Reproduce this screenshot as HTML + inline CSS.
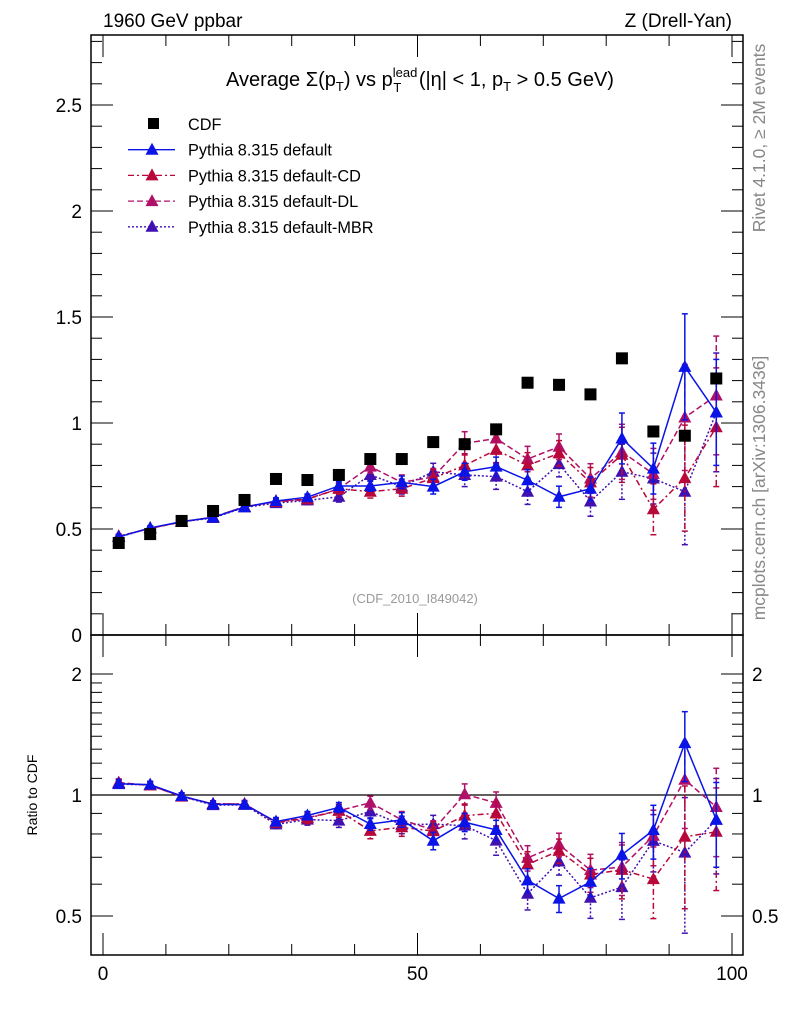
<!DOCTYPE html>
<html><head><meta charset="utf-8"><style>
body{margin:0;background:#fff;}
svg{display:block;font-family:"Liberation Sans",sans-serif;}
</style></head><body>
<svg id="c" width="786" height="1024" viewBox="0 0 786 1024">
<text x="103" y="27" font-size="19">1960 GeV ppbar</text>
<text x="732" y="27" font-size="19" text-anchor="end">Z (Drell-Yan)</text>
<text x="420" y="86" font-size="20" text-anchor="middle">Average Σ(p<tspan font-size="13" dy="5">T</tspan><tspan dy="-5">) vs p</tspan><tspan font-size="13" dy="-9">lead</tspan><tspan font-size="13" dx="-24" dy="15">T</tspan><tspan dx="12" dy="-6"> (|η| &lt; 1, p</tspan><tspan font-size="13" dy="5">T</tspan><tspan dy="-5"> &gt; 0.5 GeV)</tspan></text>
<text x="415" y="603" font-size="13" fill="#999" text-anchor="middle">(CDF_2010_I849042)</text>
<text transform="translate(765,138) rotate(-90)" font-size="17.5" fill="#888" text-anchor="middle">Rivet 4.1.0, ≥ 2M events</text>
<text transform="translate(765,488) rotate(-90)" font-size="17.5" fill="#888" text-anchor="middle">mcplots.cern.ch [arXiv:1306.3436]</text>
<text transform="translate(37,795) rotate(-90)" font-size="14" text-anchor="middle">Ratio to CDF</text>
<g id="g"></g>
</svg>
<script>
const xCenters=[2.5,7.5,12.5,17.5,22.5,27.5,32.5,37.5,42.5,47.5,52.5,57.5,62.5,67.5,72.5,77.5,82.5,87.5,92.5,97.5];
const cdfVals=[0.434,0.476,0.538,0.585,0.637,0.736,0.731,0.755,0.83,0.83,0.91,0.90,0.97,1.19,1.18,1.135,1.305,0.96,0.94,1.21];
const defVals=[0.463,0.505,0.535,0.555,0.603,0.632,0.65,0.703,0.703,0.72,0.70,0.77,0.794,0.73,0.652,0.69,0.927,0.785,1.265,1.05];
const cdVals=[0.465,0.503,0.534,0.556,0.605,0.628,0.64,0.69,0.676,0.69,0.74,0.80,0.873,0.80,0.857,0.72,0.85,0.593,0.74,0.98];
const dlVals=[0.466,0.503,0.533,0.556,0.605,0.63,0.642,0.69,0.794,0.72,0.745,0.904,0.927,0.83,0.888,0.738,0.864,0.76,1.026,1.13];
const mbrVals=[0.462,0.504,0.534,0.552,0.602,0.622,0.635,0.652,0.755,0.70,0.77,0.755,0.747,0.676,0.806,0.63,0.77,0.738,0.676,1.05];
const defErr=[0.01,0.01,0.01,0.01,0.012,0.015,0.015,0.02,0.025,0.03,0.035,0.04,0.045,0.05,0.05,0.055,0.12,0.12,0.25,0.25];
const altErr=[0.01,0.01,0.01,0.01,0.012,0.015,0.02,0.025,0.03,0.035,0.04,0.055,0.06,0.06,0.06,0.07,0.13,0.12,0.25,0.28];
const mainTicks=[0,0.5,1,1.5,2,2.5];
const mainTickLabels=["0","0.5","1","1.5","2","2.5"];
const ratioTicks=[0.5,1,2];
const ratioTickLabels=["0.5","1","2"];
const xTicks=[0,50,100];
const xTickLabels=["0","50","100"];

const NS="http://www.w3.org/2000/svg";
const G=document.getElementById('g');
const L=91,R=743,T=35,MB=635,RB=955;
const X=v=>103+6.29*v;
const Ym=v=>635-212*v;
const Yr=v=>795-174.6*Math.log(v);
function el(tag,attrs,parent){const e=document.createElementNS(NS,tag);for(const k in attrs)e.setAttribute(k,attrs[k]);(parent||G).appendChild(e);return e;}

const f1=el('rect',{x:L,y:T,width:R-L,height:MB-T,fill:'none',stroke:'#000','stroke-width':1.5});


const f2=el('rect',{x:L,y:MB,width:R-L,height:RB-MB,fill:'none',stroke:'#000','stroke-width':1.5});



for(let v=0;v<=2.8001;v+=0.1){const y=Ym(v);if(y<T)break;const maj=Math.abs(v*2-Math.round(v*2))<1e-6;const len=maj?22:11;
el('line',{x1:L,y1:y,x2:L+len,y2:y,stroke:'#000'});el('line',{x1:R,y1:y,x2:R-len,y2:y,stroke:'#000'});}
mainTicks.forEach((v,i)=>{const t=el('text',{x:82,y:Ym(v)+7,'font-size':19,'text-anchor':'end'});t.textContent=mainTickLabels[i];

});
const rminor=[0.5,0.6,0.7,0.8,0.9,1,1.1,1.2,1.3,1.4,1.5,1.6,1.7,1.8,1.9,2];
rminor.forEach(v=>{const y=Yr(v);const maj=(v===0.5||v===1||v===2);const len=maj?22:11;
el('line',{x1:L,y1:y,x2:L+len,y2:y,stroke:'#000'});el('line',{x1:R,y1:y,x2:R-len,y2:y,stroke:'#000'});});
ratioTicks.forEach((v,i)=>{const t=el('text',{x:82,y:Yr(v)+7,'font-size':19,'text-anchor':'end'});t.textContent=ratioTickLabels[i];


const t2=el('text',{x:752,y:Yr(v)+7,'font-size':19});t2.textContent=ratioTickLabels[i];

});
for(let v=0;v<=100;v+=10){const x=X(v);const len=(v%50===0)?22:11;
[[T,1],[MB,-1],[MB,1],[RB,-1]].forEach(([y0,d])=>el('line',{x1:x,y1:y0,x2:x,y2:y0+d*len,stroke:'#000'}));}
xTicks.forEach((v,i)=>{const t=el('text',{x:X(v),y:980,'font-size':19,'text-anchor':'middle'});t.textContent=xTickLabels[i];

});
const u=el('line',{x1:L,y1:Yr(1),x2:R,y2:Yr(1),stroke:'#000','stroke-width':1.2});



function tri(x,y,c,parent){return el('polygon',{points:`${x},${y-7} ${x-6.5},${y+5} ${x+6.5},${y+5}`,fill:c},parent);}
const series=[
 {name:'default',vals:defVals,err:defErr,color:'#0a14e6',dash:''},
 {name:'default-cd',vals:cdVals,err:altErr,color:'#b8083a',dash:'6,3,2,3'},
 {name:'default-dl',vals:dlVals,err:altErr,color:'#b01068',dash:'6,3'},
 {name:'default-mbr',vals:mbrVals,err:altErr,color:'#4010b0',dash:'2,2'}];
series.slice().reverse().forEach(s=>{
 ['main','ratio'].forEach(panel=>{
  const g=el('g',{});
  
  
  const Y=panel==='main'?(i,v)=>Ym(v):(i,v)=>Yr(v/cdfVals[i]);
  const pts=s.vals.map((v,i)=>X(xCenters[i])+','+Y(i,v)).join(' ');
  el('polyline',{points:pts,fill:'none',stroke:s.color,'stroke-width':1.5,'stroke-dasharray':s.dash},g);
  s.vals.forEach((v,i)=>{const x=X(xCenters[i]);const y1=Y(i,v+s.err[i]),y2=Y(i,Math.max(v-s.err[i],0.05));
   el('line',{x1:x,y1:y1,x2:x,y2:y2,stroke:s.color,'stroke-width':1.5,'stroke-dasharray':s.dash},g);
   el('line',{x1:x-3,y1:y1,x2:x+3,y2:y1,stroke:s.color,'stroke-width':1.5},g);
   el('line',{x1:x-3,y1:y2,x2:x+3,y2:y2,stroke:s.color,'stroke-width':1.5},g);
   const m=tri(x,Y(i,v),s.color,g);
   
   });
 });
});
cdfVals.forEach((v,i)=>{const r=el('rect',{x:X(xCenters[i])-6,y:Ym(v)-6,width:12,height:12,fill:'#000'});

});

const leg=[['CDF',null],['Pythia 8.315 default',series[0]],['Pythia 8.315 default-CD',series[1]],['Pythia 8.315 default-DL',series[2]],['Pythia 8.315 default-MBR',series[3]]];
leg.forEach(([lab,s],k)=>{const y=124+k*25.7;const g=el('g',{});
 
 
 if(!s){el('rect',{x:148,y:y-6,width:11,height:11,fill:'#000'},g);}
 else{el('line',{x1:128,y1:y,x2:175,y2:y,stroke:s.color,'stroke-width':1.3,'stroke-dasharray':s.dash},g);tri(152,y,s.color,g);}
 const t=el('text',{x:188,y:y+6,'font-size':16.3},g);t.textContent=lab;});
</script>
</body></html>
